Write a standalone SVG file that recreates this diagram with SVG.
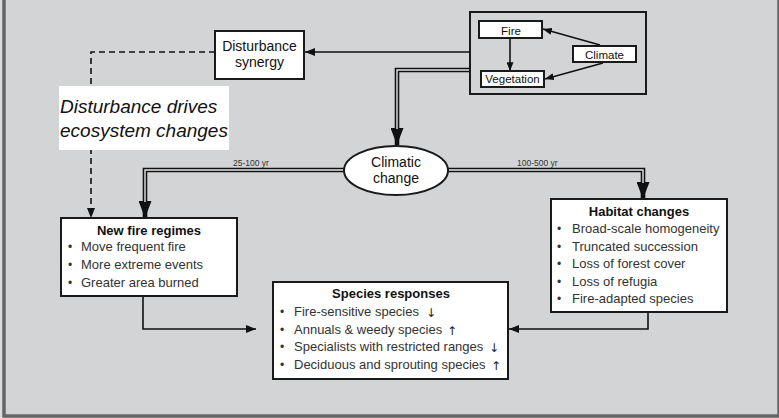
<svg xmlns="http://www.w3.org/2000/svg" width="779" height="418" viewBox="0 0 779 418">
<style>
.box{fill:#fff;stroke:#1a1a1a;stroke-width:2}
.t{font-family:"Liberation Sans",Arial,sans-serif;fill:#111}
.title{font-size:13px;font-weight:bold;text-anchor:middle}
.item{font-size:13px;fill:#333}
.bul{font-size:12px;fill:#333;text-anchor:middle}
.mid{text-anchor:middle}
.ln{fill:none;stroke:#111;stroke-width:1.6}
.dbl{fill:none;stroke:#111;stroke-width:4.6}
.dblin{fill:none;stroke:#e6e6e6;stroke-width:1.4}
.yr{font-size:8.5px;fill:#333}
.sa{font-family:"DejaVu Sans",sans-serif;font-size:12px;fill:#222;text-anchor:middle}
</style>
<defs>
<marker id="ah" viewBox="0 0 10 8" refX="10" refY="4" markerWidth="10" markerHeight="8" markerUnits="userSpaceOnUse" orient="auto"><path d="M0,0 L10,4 L0,8 z" fill="#111"/></marker>
<marker id="ahs" viewBox="0 0 10 8" refX="10" refY="4" markerWidth="9" markerHeight="7" markerUnits="userSpaceOnUse" orient="auto"><path d="M0,0 L10,4 L0,8 z" fill="#111"/></marker>
<marker id="ahb" viewBox="0 0 17 13" refX="17" refY="6.5" markerWidth="17" markerHeight="13" markerUnits="userSpaceOnUse" orient="auto"><path d="M0,0 L17,6.5 L0,13 z" fill="#111"/></marker>
</defs>
<!-- background frame -->
<rect x="0" y="0" width="779" height="418" fill="#dcdcdc"/>
<rect x="4" y="-4" width="775" height="420" fill="#d3d4d6" stroke="#666" stroke-width="3.5"/>

<g id="connectors">
  <path class="ln" d="M470,52 H305" marker-end="url(#ah)"/>
  <path class="ln" d="M215,52 H91 V218" stroke-dasharray="6 4" marker-end="url(#ah)"/>
  <path class="dbl" d="M470,70 H397 V145" marker-end="url(#ahb)"/>
  <path class="dblin" d="M470,70 H397 V129"/>
  <path class="dbl" d="M344,170 H145 V218" marker-end="url(#ahb)"/>
  <path class="dblin" d="M344,170 H145 V202"/>
  <path class="dbl" d="M448,170 H643 V199" marker-end="url(#ahb)"/>
  <path class="dblin" d="M448,170 H643 V183"/>
  <path class="ln" d="M143,296 V329 H256" marker-end="url(#ah)"/>
  <path class="ln" d="M648,312 V329 H509" marker-end="url(#ah)"/>
  <text class="t yr" x="233" y="166">25-100 yr</text>
  <text class="t yr" x="517" y="166">100-500 yr</text>
</g>

<g id="fire-climate-vegetation">
  <rect x="470" y="12" width="176" height="82" fill="none" stroke="#1a1a1a" stroke-width="2"/>
  <path class="ln" d="M510,38 V71" marker-end="url(#ahs)"/>
  <path class="ln" d="M600,45 L543,29" marker-end="url(#ahs)"/>
  <path class="ln" d="M603,63 L545,79" marker-end="url(#ahs)"/>
  <g id="fire"><rect class="box" x="479" y="21" width="63" height="17"/><text class="t mid" x="511" y="34.5" font-size="11.5">Fire</text></g>
  <g id="vegetation"><rect class="box" x="481" y="71" width="63" height="16"/><text class="t mid" x="512.5" y="83" font-size="11.5">Vegetation</text></g>
  <g id="climate"><rect class="box" x="573" y="46" width="63" height="16"/><text class="t mid" x="604.5" y="58.5" font-size="11.5">Climate</text></g>
</g>

<g id="disturbance-synergy">
  <rect class="box" x="215" y="31" width="89" height="48"/>
  <text class="t mid" x="259.5" y="51" font-size="14">Disturbance</text>
  <text class="t mid" x="259.5" y="67" font-size="14">synergy</text>
</g>

<g id="disturbance-label">
  <rect x="59" y="86" width="170" height="64" fill="#fff"/>
  <text class="t" x="60" y="113" font-size="19" font-style="italic">Disturbance drives</text>
  <text class="t" x="60" y="137" font-size="19" font-style="italic">ecosystem changes</text>
</g>

<g id="climatic-change">
  <ellipse cx="396" cy="170.5" rx="52" ry="24.5" fill="#fff" stroke="#1a1a1a" stroke-width="2"/>
  <text class="t mid" x="396" y="166.5" font-size="14">Climatic</text>
  <text class="t mid" x="396" y="182.5" font-size="14">change</text>
</g>

<g id="new-fire-regimes">
  <rect class="box" x="61" y="218" width="176" height="78"/>
  <text class="t title" x="149" y="235">New fire regimes</text>
  <text class="t bul" x="70" y="251">•</text><text class="t item" x="81" y="251">Move frequent fire</text>
  <text class="t bul" x="70" y="269">•</text><text class="t item" x="81" y="269">More extreme events</text>
  <text class="t bul" x="70" y="287">•</text><text class="t item" x="81" y="287">Greater area burned</text>
</g>

<g id="habitat-changes">
  <rect class="box" x="551" y="199" width="176" height="113"/>
  <text class="t title" x="639" y="215.5">Habitat changes</text>
  <text class="t bul" x="559" y="233">•</text><text class="t item" x="572" y="233">Broad-scale homogeneity</text>
  <text class="t bul" x="559" y="250.5">•</text><text class="t item" x="572" y="250.5">Truncated succession</text>
  <text class="t bul" x="559" y="268">•</text><text class="t item" x="572" y="268">Loss of forest cover</text>
  <text class="t bul" x="559" y="285.5">•</text><text class="t item" x="572" y="285.5">Loss of refugia</text>
  <text class="t bul" x="559" y="303">•</text><text class="t item" x="572" y="303">Fire-adapted species</text>
</g>

<g id="species-responses">
  <rect class="box" x="273" y="282" width="235" height="97"/>
  <text class="t title" x="391" y="297.5">Species responses</text>
  <text class="t bul" x="282" y="316">•</text><text class="t item" x="294" y="316">Fire-sensitive species</text><text class="sa" x="431" y="317">↓</text>
  <text class="t bul" x="282" y="333.5">•</text><text class="t item" x="294" y="333.5">Annuals &amp; weedy species</text><text class="sa" x="452" y="334.5">↑</text>
  <text class="t bul" x="282" y="351">•</text><text class="t item" x="294" y="351">Specialists with restricted ranges</text><text class="sa" x="494" y="352">↓</text>
  <text class="t bul" x="282" y="368.5">•</text><text class="t item" x="294" y="368.5">Deciduous and sprouting species</text><text class="sa" x="496" y="369.5">↑</text>
</g>
</svg>
